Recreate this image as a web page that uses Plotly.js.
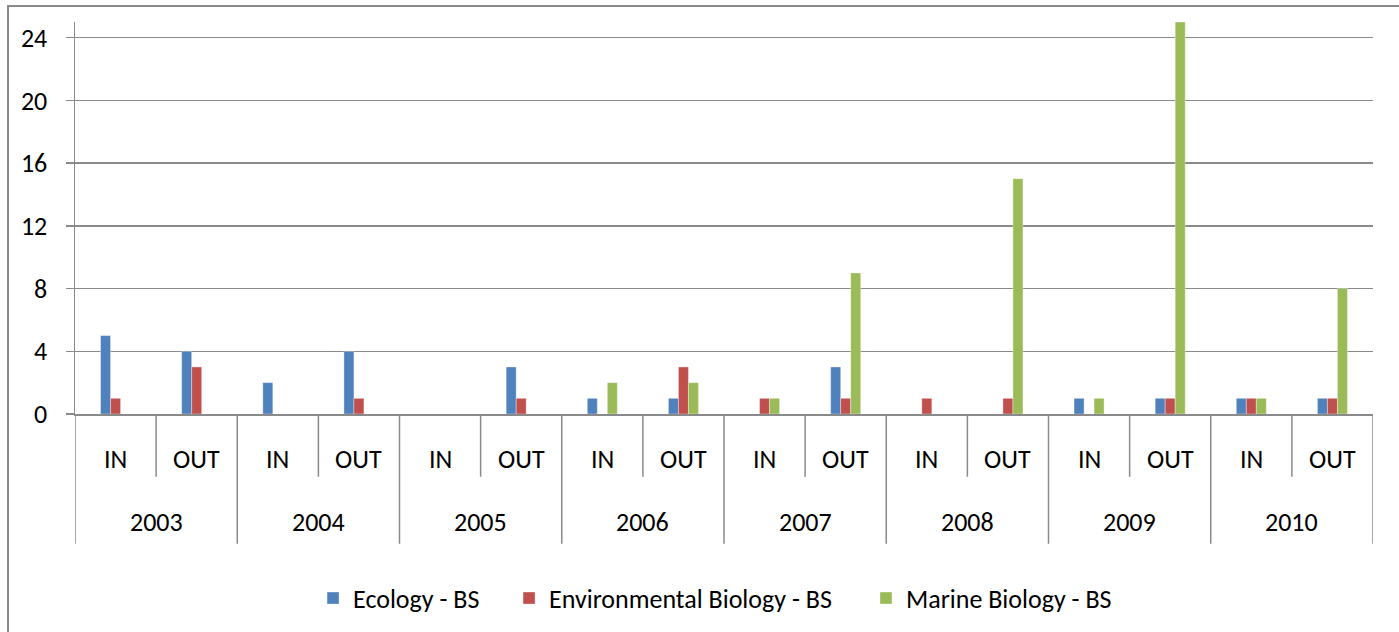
<!DOCTYPE html>
<html>
<head>
<meta charset="utf-8">
<script src="https://cdn.plot.ly/plotly-3.0.1.min.js"></script>
<style>html,body{margin:0;padding:0;background:#fff;}#chart{width:1399px;height:632px;}</style>
</head>
<body>
<div id="chart"></div>
<script>
// Data
const years = ["2003","2003","2004","2004","2005","2005","2006","2006","2007","2007","2008","2008","2009","2009","2010","2010"];
const subs  = ["IN","OUT","IN","OUT","IN","OUT","IN","OUT","IN","OUT","IN","OUT","IN","OUT","IN","OUT"];
const ecology       = [5,4, 2,4, 0,3, 1,1, 0,3, 0,0, 1,1, 1,1];
const environmental = [1,3, 0,1, 0,1, 0,3, 1,1, 1,1, 0,1, 1,1];
const marine        = [0,0, 0,0, 0,0, 2,2, 1,9, 0,15, 1,25, 1,8];
const seriesNames = ["Ecology - BS", "Environmental Biology - BS", "Marine Biology - BS"];
const seriesColors = ["#4F81BD", "#C0504D", "#9BBB59"];
const yTicks = [0,4,8,12,16,20,24];

const FONT = "Carlito, Calibri, Lato, sans-serif";
const FS = 26;
const idx = subs.map((_, i) => i);
const values = [ecology, environmental, marine];
const legendIds = ["legend", "legend2", "legend3"];
const legendX = [0.1834, 0.3344, 0.6094];

const traces = values.map((v, k) => ({
  type: "bar",
  x: idx,
  y: v,
  name: seriesNames[k],
  legend: legendIds[k],
  marker: {color: seriesColors[k], line: {color: "rgba(255,255,255,0.35)", width: 1}},
  hoverinfo: "x+y+name"
}));

const GRID = "#8a8a8a";
const shapes = [];
const annotations = [];
// category dividers below the axis
for (let i = 0; i <= subs.length; i++) {
  const long = (i === 0 || i === subs.length || years[i] !== years[i - 1]);
  shapes.push({
    type: "line", xref: "x", yref: "paper",
    x0: i - 0.5, x1: i - 0.5, y0: 0, y1: long ? -0.331 : -0.160,
    line: {color: GRID, width: 1.5}
  });
}
// sub labels
subs.forEach((s, i) => {
  annotations.push({
    x: i, y: -0.1145, xref: "x", yref: "paper", text: s, showarrow: false,
    xanchor: "center", yanchor: "middle", font: {family: FONT, size: FS, color: "#000"}
  });
});
// year labels
const uniqYears = [...new Set(years)];
uniqYears.forEach(yr => {
  const ids = idx.filter(i => years[i] === yr);
  const c = (ids[0] + ids[ids.length - 1]) / 2;
  annotations.push({
    x: c, y: -0.275, xref: "x", yref: "paper", text: yr, showarrow: false,
    xanchor: "center", yanchor: "middle", font: {family: FONT, size: FS, color: "#000"}
  });
});
// outer chart border
shapes.push({
  type: "rect", xref: "paper", yref: "paper",
  x0: -0.0516, x1: 1.2, y0: -0.8, y1: 1.0407,
  line: {color: GRID, width: 2}, fillcolor: "rgba(0,0,0,0)", layer: "below"
});

const layout = {
  width: 1399, height: 632,
  margin: {l: 75, r: 26, t: 22, b: 217, pad: 0},
  paper_bgcolor: "#fff", plot_bgcolor: "#fff",
  barmode: "group",
  bargap: 0.63,
  bargroupgap: 0,
  showlegend: true,
  xaxis: {
    type: "linear", range: [-0.5, subs.length - 0.5],
    showticklabels: false, ticks: "", showgrid: false, zeroline: false,
    showline: true, linecolor: GRID, linewidth: 1.5, fixedrange: true
  },
  yaxis: {
    range: [0, 25], tickvals: yTicks, ticktext: yTicks.map(String),
    ticks: "outside", ticklen: 8, tickcolor: GRID, tickwidth: 1.5,
    ticklabelstandoff: 13,
    showgrid: true, gridcolor: GRID, gridwidth: 1.5,
    zeroline: false, showline: true, linecolor: GRID, linewidth: 1.5,
    tickfont: {family: FONT, size: FS, color: "#000"}, fixedrange: true
  },
  shapes: shapes,
  annotations: annotations
};
legendIds.forEach((id, k) => {
  layout[id] = {
    orientation: "h", x: legendX[k], xanchor: "left", y: -0.466, yanchor: "middle",
    font: {family: FONT, size: FS, color: "#000"}, itemwidth: 30,
    bgcolor: "rgba(0,0,0,0)"
  };
});

Plotly.newPlot("chart", traces, layout, {displayModeBar: false, staticPlot: true});
</script>
</body>
</html>
